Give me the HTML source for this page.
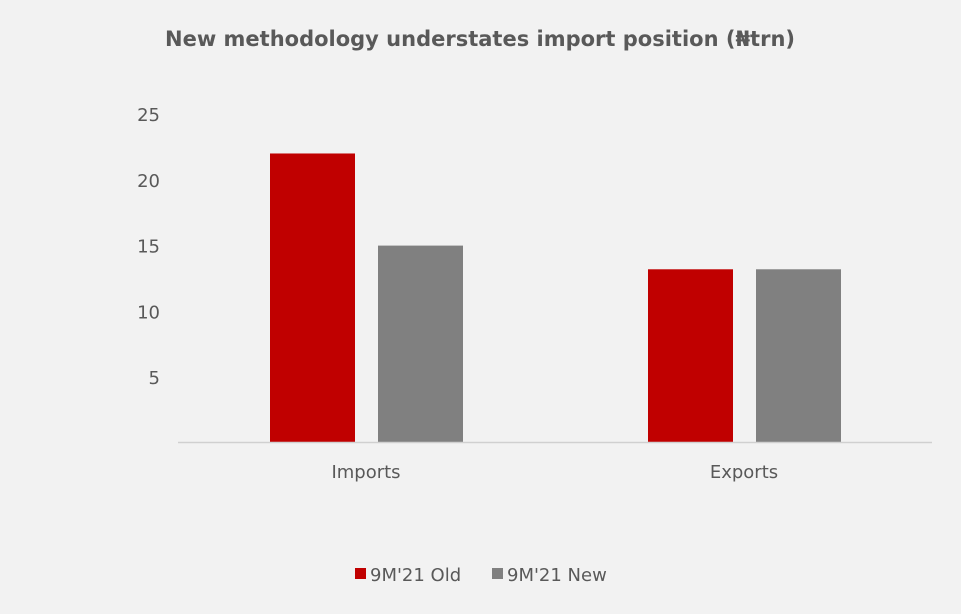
<!DOCTYPE html>
<html><head><meta charset="utf-8"><style>
body{margin:0;background:#f2f2f2;}
svg{display:block;font-family:"DejaVu Sans","Liberation Sans",sans-serif;}
</style></head><body>
<svg id="chart" width="961" height="614" viewBox="0 0 961 614">
<rect width="961" height="614" fill="#f2f2f2"/>
<text x="480" y="46" text-anchor="middle" font-size="21" font-weight="bold" fill="#595959">New methodology understates import position (₦trn)</text>
<g id="yticks"></g>
<g id="bars"></g>
<g id="xlabels"></g>
<line x1="178" y1="442.5" x2="932" y2="442.5" stroke="#d0d0d0" stroke-width="1.5"/>
<g>
<rect x="355" y="568" width="11" height="11" fill="#c00000"/>
<text x="370" y="581" font-size="18" fill="#595959">9M'21 Old</text>
<rect x="492" y="568" width="11" height="11" fill="#808080"/>
<text x="507" y="581" font-size="18" fill="#595959">9M'21 New</text>
</g>
</svg>
<script>
const categories = ["Imports", "Exports"];
const oldValues = [22, 13.2];
const newValues = [15, 13.2];
const tickValues = [5, 10, 15, 20, 25];
const NS = "http://www.w3.org/2000/svg";
const y = v => 443 - v * 13.16;
const catCenter = i => 366 + i * 378;
const yt = document.getElementById("yticks");
tickValues.forEach(t => {
  const e = document.createElementNS(NS, "text");
  e.setAttribute("x", 160); e.setAttribute("y", y(t) + 7);
  e.setAttribute("text-anchor", "end"); e.setAttribute("font-size", "18"); e.setAttribute("fill", "#595959");
  
  
  e.textContent = t; yt.appendChild(e);
});
const bg = document.getElementById("bars");
const xl = document.getElementById("xlabels");
categories.forEach((c, i) => {
  const cx = catCenter(i);
  [[oldValues[i], "#c00000", -96], [newValues[i], "#808080", 12]].forEach(([v, col, off], k) => {
    const r = document.createElementNS(NS, "rect");
    r.setAttribute("x", cx + off); r.setAttribute("width", 85);
    r.setAttribute("y", y(v)); r.setAttribute("height", y(0) - y(v) - 1);
    r.setAttribute("fill", col);
    
    
    bg.appendChild(r);
  });
  const t = document.createElementNS(NS, "text");
  t.setAttribute("x", cx); t.setAttribute("y", 478);
  t.setAttribute("text-anchor", "middle"); t.setAttribute("font-size", "18"); t.setAttribute("fill", "#595959");
  
  
  t.textContent = c; xl.appendChild(t);
});
</script>
</body></html>
